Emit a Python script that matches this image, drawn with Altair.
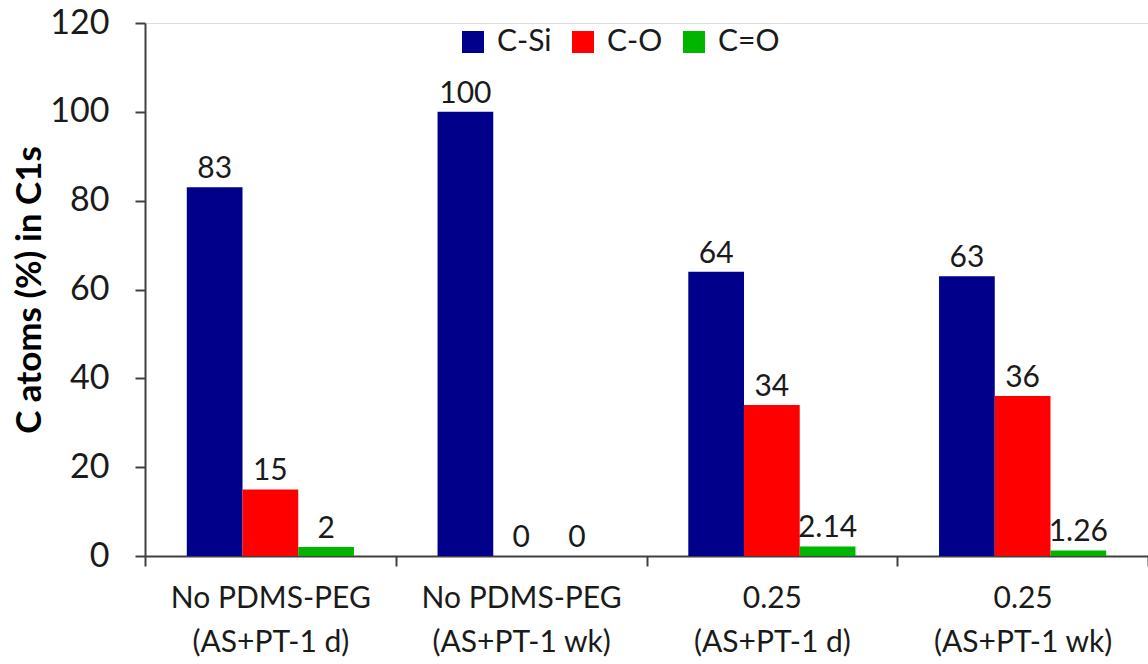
import altair as alt
import pandas as pd

categories = ["No PDMS-PEG|(AS+PT-1 d)", "No PDMS-PEG|(AS+PT-1 wk)", "0.25|(AS+PT-1 d)", "0.25|(AS+PT-1 wk)"]
series = ["C-Si", "C-O", "C=O"]
c_si = [83, 100, 64, 63]
c_o = [15, 0, 34, 36]
c_dbl_o = [2, 0, 2.14, 1.26]
labels_si = ["83", "100", "64", "63"]
labels_o = ["15", "0", "34", "36"]
labels_dbl = ["2", "0", "2.14", "1.26"]
colors = ["#00008B", "#FF0000", "#00B400"]

rows = []
for i, c in enumerate(categories):
    for s, vals, labs in zip(series, [c_si, c_o, c_dbl_o], [labels_si, labels_o, labels_dbl]):
        rows.append({"cat": c, "series": s, "value": vals[i], "label": labs[i]})
df = pd.DataFrame(rows)

FONT = "Lato"
TXT = "#1a1a1a"

x = alt.X("cat:N", sort=categories, title=None,
          scale=alt.Scale(paddingInner=0, paddingOuter=0),
          axis=alt.Axis(labelExpr="split(datum.label, '|')", labelAngle=0, labelLimit=0,
                        tickBand="extent", tickSize=10, labelPadding=17,
                        labelFontSize=30, labelColor=TXT, labelFont=FONT,
                        labelLineHeight=44, domainColor="#404040", domainWidth=2,
                        tickColor="#404040", tickWidth=2))
xoff = alt.XOffset("series:N", sort=series, scale=alt.Scale(paddingInner=0, paddingOuter=0.75))
y = alt.Y("value:Q", scale=alt.Scale(domain=[0, 120]), title="C atoms (%) in C1s",
          axis=alt.Axis(values=[0, 20, 40, 60, 80, 100, 120], grid=False, tickSize=10,
                        labelPadding=26, labelFontSize=34, labelColor=TXT, labelFont=FONT,
                        titleFontSize=35, titleFontWeight="bold", titleFont=FONT,
                        titleColor="#000000", titlePadding=2,
                        domainColor="#404040", domainWidth=2, tickColor="#404040", tickWidth=2))
color = alt.Color("series:N", sort=series, scale=alt.Scale(domain=series, range=colors),
                  legend=alt.Legend(title=None, orient="none", direction="horizontal",
                                    legendX=313, legendY=4, symbolType="square",
                                    symbolSize=484, symbolStrokeWidth=0, labelFontSize=30,
                                    labelFont=FONT, labelColor=TXT, columnPadding=16,
                                    labelOffset=9))

bars = alt.Chart(df).mark_bar().encode(x=x, xOffset=xoff, y=y, color=color)
text = alt.Chart(df).mark_text(baseline="bottom", dy=-3, fontSize=30, font=FONT,
                               color=TXT).encode(x=x, xOffset=xoff, y=y, text="label:N")

chart = (bars + text).properties(
    width=1003, height=533,
    autosize=alt.AutoSizeParams(type="none"),
    padding={"left": 145, "top": 23, "right": 0, "bottom": 108},
).configure_view(stroke=None).configure(background="white")

chart.save("out.html", embed_options={"renderer": "svg", "actions": False})
